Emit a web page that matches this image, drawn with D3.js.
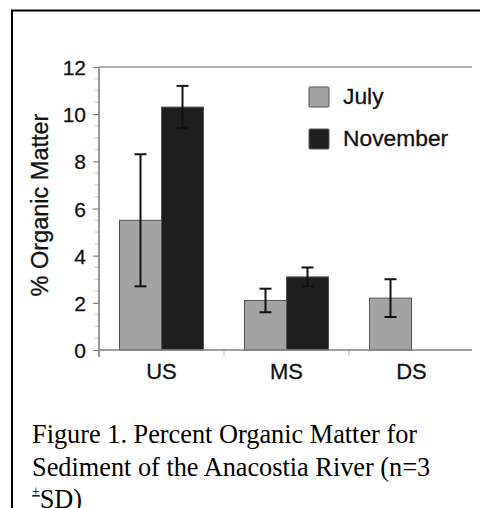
<!DOCTYPE html>
<html>
<head>
<meta charset="utf-8">
<script src="https://cdn.jsdelivr.net/npm/d3@7"></script>
<style>
html,body{margin:0;padding:0;background:#fff;}
svg{display:block;}
</style>
</head>
<body>
<svg id="chart" width="480" height="508"></svg>
<script>
const categories = ["US", "MS", "DS"];
const series = ["July", "November"];
const julyValues = [5.5, 2.1, 2.2];
const julySD = [2.8, 0.5, 0.8];
const novemberValues = [10.3, 3.1, null];
const novemberSD = [0.9, 0.4, null];
const yTicks = [0, 2, 4, 6, 8, 10, 12];
const yLabel = "% Organic Matter";
const captionLines = ["Figure 1. Percent Organic Matter for", "Sediment of the Anacostia River (n=3"];

(function () {
const colors = {July: "#a3a3a3", November: "#1e1e1e"};
const values = {July: julyValues, November: novemberValues};
const sds = {July: julySD, November: novemberSD};

const svg = d3.select("#chart");
const pLeft = 99, pRight = 474, pTop = 67, pBottom = 350;
const sans = "Liberation Sans, Arial, Helvetica, sans-serif";

// frame
svg.append("line").attr("x1", 11).attr("x2", 480).attr("y1", 10.5).attr("y2", 10.5).attr("stroke", "#000").attr("stroke-width", 2);
svg.append("line").attr("x1", 12).attr("x2", 12).attr("y1", 10).attr("y2", 508).attr("stroke", "#000").attr("stroke-width", 2);

const y = d3.scaleLinear().domain([0, 12]).range([pBottom, pTop]);
const x0 = d3.scaleBand().domain(categories).range([pLeft, pRight]);
const x1 = d3.scaleBand().domain(series).range([20.5, 104.5]);

const axisColor = "#808080";

// minor ticks
const minor = d3.range(0.5, 12, 0.5).filter(v => v % 2 !== 0);
svg.append("g").selectAll("line").data(minor).join("line")
  .attr("x1", pLeft - 4.5).attr("x2", pLeft).attr("y1", d => y(d)).attr("y2", d => y(d))
  .attr("stroke", "#d0d0d0").attr("stroke-width", 1.2);

// y axis
const yAxis = d3.axisLeft(y).tickValues(yTicks).tickSize(6).tickPadding(7).tickFormat(d3.format("d"));
const gy = svg.append("g").attr("transform", `translate(${pLeft},0)`).call(yAxis);
gy.select(".domain").remove();
gy.selectAll(".tick line").attr("stroke", axisColor).attr("stroke-width", 1.2);
gy.selectAll(".tick text").attr("font-family", sans).attr("font-size", 21).attr("fill", "#111")
  .attr("stroke", "#111").attr("stroke-width", 0.3).attr("dy", "0.36em");

svg.append("line").attr("x1", pLeft).attr("x2", pLeft).attr("y1", pTop).attr("y2", pBottom + 7).attr("stroke", axisColor).attr("stroke-width", 1.6);
svg.append("line").attr("x1", pLeft).attr("x2", pRight - 2).attr("y1", pTop).attr("y2", pTop).attr("stroke", "#999").attr("stroke-width", 1.6);

// x category boundary ticks
const bounds = categories.slice(1).map(c => x0(c));
svg.append("g").selectAll("line").data(bounds).join("line")
  .attr("x1", d => d).attr("x2", d => d).attr("y1", pBottom).attr("y2", pBottom + 6)
  .attr("stroke", "#c8c8c8").attr("stroke-width", 1.2);

// bars
const groups = svg.append("g").selectAll("g").data(categories).join("g")
  .attr("transform", c => `translate(${x0(c)},0)`);

series.forEach(s => {
  groups.each(function(c, i) {
    const v = values[s][i];
    if (v == null) return;
    d3.select(this).append("rect")
      .attr("x", x1(s)).attr("width", x1.bandwidth())
      .attr("y", y(v)).attr("height", y(0) - y(v))
      .attr("fill", colors[s]).attr("stroke", "#555").attr("stroke-width", 1);
  });
});

// x axis line
svg.append("line").attr("x1", pLeft).attr("x2", pRight - 2).attr("y1", pBottom).attr("y2", pBottom).attr("stroke", axisColor).attr("stroke-width", 1.6);

// error bars
series.forEach(s => {
  groups.each(function(c, i) {
    const v = values[s][i], sd = sds[s][i];
    if (v == null) return;
    const cx = x1(s) + x1.bandwidth() / 2;
    const g = d3.select(this).append("g").attr("stroke", "#111").attr("stroke-width", 2);
    g.append("line").attr("x1", cx).attr("x2", cx).attr("y1", y(v + sd)).attr("y2", y(v - sd));
    g.append("line").attr("x1", cx - 6).attr("x2", cx + 6).attr("y1", y(v + sd)).attr("y2", y(v + sd));
    g.append("line").attr("x1", cx - 6).attr("x2", cx + 6).attr("y1", y(v - sd)).attr("y2", y(v - sd));
  });
});

// x labels
svg.append("g").selectAll("text").data(categories).join("text")
  .attr("x", c => x0(c) + x0.bandwidth() / 2).attr("y", 379)
  .attr("text-anchor", "middle")
  .attr("font-family", sans).attr("font-size", 22).attr("fill", "#111")
  .attr("stroke", "#111").attr("stroke-width", 0.3)
  .text(d => d);

// y label
svg.append("text").attr("transform", "translate(48,205) rotate(-90)")
  .attr("text-anchor", "middle")
  .attr("font-family", sans).attr("font-size", 23.5).attr("fill", "#111")
  .attr("stroke", "#111").attr("stroke-width", 0.3)
  .text(yLabel);

// legend
const legend = svg.append("g").selectAll("g").data(series).join("g")
  .attr("transform", (d, i) => `translate(309,${87 + i * 42})`);
legend.append("rect").attr("width", 20).attr("height", 20).attr("rx", 1)
  .attr("fill", d => colors[d]).attr("stroke", "#555").attr("stroke-width", 1);
legend.append("text").attr("x", 34).attr("y", 17)
  .attr("font-family", sans).attr("font-size", 22.8).attr("fill", "#111")
  .attr("stroke", "#111").attr("stroke-width", 0.3)
  .text(d => d);

// caption
const cap = svg.append("g").attr("font-family", "Liberation Serif, Times New Roman, serif").attr("font-size", 26.3).attr("fill", "#000");
cap.selectAll("text.line").data(captionLines).join("text").attr("class", "line")
  .attr("x", 32).attr("y", (d, i) => 443 + i * 32.7).text(d => d);
const last = cap.append("text").attr("x", 32).attr("y", 508);
last.append("tspan").attr("font-size", 14).attr("dy", -12).text("±");
last.append("tspan").attr("dy", 12).text("SD)");
cap.append("line").attr("x1", 32).attr("x2", 40).attr("y1", 496).attr("y2", 496).attr("stroke", "#000").attr("stroke-width", 1);
})();
</script>
</body>
</html>
